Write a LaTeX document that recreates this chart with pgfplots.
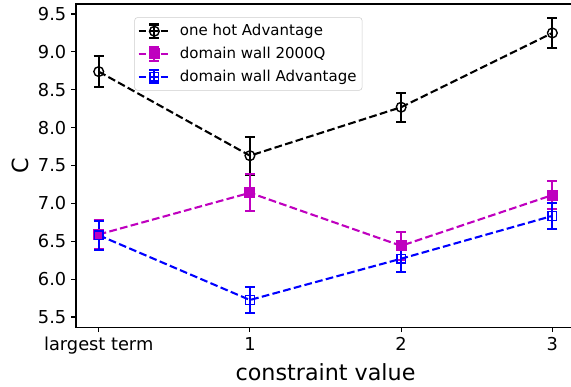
\documentclass[border=0pt]{standalone}
\usepackage{fontspec}
\setmainfont{DejaVu Sans}
\usepackage{pgfplots}
\pgfplotsset{compat=1.18}
\definecolor{mpmag}{rgb}{0.75,0,0.75}
\definecolor{mpblue}{rgb}{0,0,1}
\definecolor{legframe}{rgb}{0.8,0.8,0.8}
\begin{document}
\begin{tikzpicture}
\begin{axis}[
  scale only axis, width=359pt, height=232.6pt,
  xmin=-0.15, xmax=3.15, ymin=5.364, ymax=9.632,
  xtick={0,1,2,3}, xticklabels={largest term,1,2,3},
  ytick={5.5,6,6.5,7,7.5,8,8.5,9,9.5},
  yticklabel style={/pgf/number format/fixed, /pgf/number format/fixed zerofill, /pgf/number format/precision=1},
  /pgf/number format/assume math mode=true,
  tick align=outside, major tick length=3.5pt,
  xtick pos=bottom, ytick pos=left,
  tick style={black, line width=0.8pt},
  axis line style={line width=0.8pt},
  ticklabel style={font=\fontsize{12.8}{15}\selectfont},
  xlabel={constraint value}, ylabel={C},
  label style={font=\fontsize{16}{19}\selectfont},
  legend style={at={(0.117,0.959)}, anchor=north west, draw=legframe, rounded corners=2pt,
    font=\fontsize{10.8}{13}\selectfont, inner xsep=2pt, inner ysep=3pt, row sep=2.6pt},
  legend cell align=left,
  legend image code/.code={
    \draw[#1, solid, mark=none, line width=1.5pt] (0.4cm,-0.17cm) -- (0.4cm,0.17cm) (0.275cm,0.17cm)--(0.525cm,0.17cm) (0.275cm,-0.17cm)--(0.525cm,-0.17cm);
    \draw[mark repeat=2,mark phase=2,#1] plot coordinates {(0cm,0cm) (0.4cm,0cm) (0.8cm,0cm)};
    \path (0.95cm,0cm);
  },
  every axis plot/.append style={line width=1.5pt, dash pattern=on 5.55pt off 2.4pt},
  error bars/error bar style={line width=1.5pt, solid},
  error bars/error mark options={rotate=90, mark size=3.6pt, line width=1.5pt, solid},
]
\coordinate (sw) at (rel axis cs:0,0);
\coordinate (ne) at (rel axis cs:1,1);
\addplot[black, mark=o, mark size=3.5pt, mark options={solid, line width=1pt},
  error bars/.cd, y dir=both, y explicit] coordinates {
  (0,8.74) +- (0,0.20)
  (1,7.63) +- (0,0.25)
  (2,8.27) +- (0,0.19)
  (3,9.25) +- (0,0.195)
};
\addlegendentry{one hot Advantage}
\addplot[mpmag, mark=square*, mark size=3.5pt, mark options={solid, line width=1pt, fill=mpmag},
  error bars/.cd, y dir=both, y explicit] coordinates {
  (0,6.59) +- (0,0.19)
  (1,7.14) +- (0,0.245)
  (2,6.44) +- (0,0.185)
  (3,7.11) +- (0,0.18)
};
\addlegendentry{domain wall 2000Q}
\addplot[mpblue, mark=square, mark size=3.1pt, mark options={solid, line width=1pt},
  error bars/.cd, y dir=both, y explicit] coordinates {
  (0,6.58) +- (0,0.19)
  (1,5.725) +- (0,0.175)
  (2,6.27) +- (0,0.175)
  (3,6.835) +- (0,0.175)
};
\addlegendentry{domain wall Advantage}
\end{axis}
\pgfresetboundingbox
\path ([shift={(-54.7pt,-42.7pt)}]sw) rectangle ([shift={(-2.9pt,2.9pt)}]ne);
\end{tikzpicture}
\end{document}
